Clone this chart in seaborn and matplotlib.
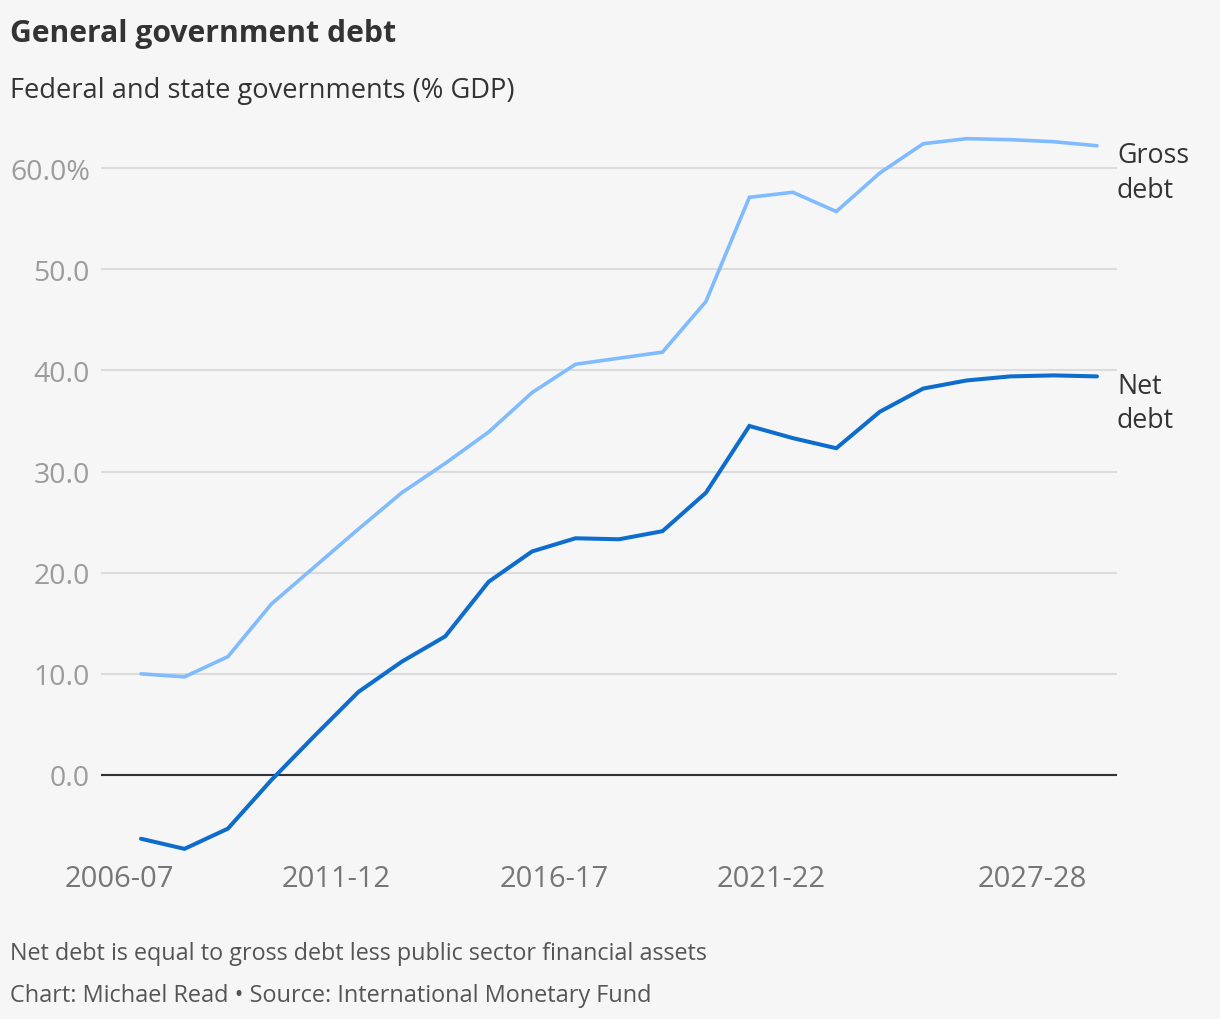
import matplotlib
matplotlib.use("Agg")
import matplotlib.pyplot as plt
import numpy as np
import pandas as pd
import seaborn as sns

# ---------------- data ----------------
years = ["2006-07", "2007-08", "2008-09", "2009-10", "2010-11", "2011-12",
         "2012-13", "2013-14", "2014-15", "2015-16", "2016-17", "2017-18",
         "2018-19", "2019-20", "2020-21", "2021-22", "2022-23", "2023-24",
         "2024-25", "2025-26", "2026-27", "2027-28", "2028-29"]
gross_debt = [10.0, 9.7, 11.7, 16.9, 20.6, 24.3, 27.9, 30.8, 33.9, 37.8, 40.6,
              41.2, 41.8, 46.8, 57.1, 57.6, 55.7, 59.5, 62.4, 62.9, 62.8, 62.6, 62.2]
net_debt = [-6.3, -7.3, -5.3, -0.5, 3.9, 8.2, 11.2, 13.7, 19.1, 22.1, 23.4,
            23.3, 24.1, 27.9, 34.5, 33.3, 32.3, 35.9, 38.2, 39.0, 39.4, 39.5, 39.4]
series_names = ["Gross debt", "Net debt"]
tick_labels = ["2006-07", "2011-12", "2016-17", "2021-22", "2027-28"]
y_ticks = [0, 10, 20, 30, 40, 50, 60]
y_tick_labels = ["0.0", "10.0", "20.0", "30.0", "40.0", "50.0", "60.0%"]

title = "General government debt"
subtitle = "Federal and state governments (% GDP)"
note = "Net debt is equal to gross debt less public sector financial assets"
source = "Chart: Michael Read \u2022 Source: International Monetary Fund"

# ---------------- styling ----------------
BG = "#f6f6f6"
COL_GROSS = "#80bbff"
COL_NET = "#0e6ccd"
TXT = "#333333"

sns.set_theme(style="white", rc={"axes.facecolor": BG, "figure.facecolor": BG})
plt.rcParams["font.family"] = ["Open Sans", "DejaVu Sans"]

n = len(years)
pos = list(range(n))
df = pd.DataFrame({
    "pos": pos + pos,
    "value": gross_debt + net_debt,
    "series": [series_names[0]] * n + [series_names[1]] * n,
})

W, H = 1220, 1020
fig = plt.figure(figsize=(W / 100, H / 100), dpi=100, facecolor=BG)

# axes placement in pixels
left_px, right_px = 101, 1117
y0_px, y60_px = 776, 169
ppu = (y0_px - y60_px) / 60.0
ymin, ymax = -8, 64
top_px = y0_px - ymax * ppu
bot_px = y0_px - ymin * ppu
ax = fig.add_axes([left_px / W, 1 - bot_px / H, (right_px - left_px) / W,
                   (bot_px - top_px) / H])
ax.set_facecolor(BG)

sns.lineplot(data=df, x="pos", y="value", hue="series", hue_order=series_names,
             palette={series_names[0]: COL_GROSS, series_names[1]: COL_NET},
             sort=False, legend=False, ax=ax)
for line, lw in zip(ax.lines, [2.6, 2.9]):
    line.set_linewidth(lw)
    line.set_solid_capstyle("round")
    line.set_solid_joinstyle("miter")
    line.set_zorder(3)

# x scale: first point at 141px, last at 1097px
step = (1097 - 141) / (n - 1)
ax.set_xlim(-(141 - left_px) / step, (n - 1) + (right_px - 1097) / step)
ax.set_ylim(ymin, ymax)

ax.set_xticks([years.index(t) - 0.5 for t in tick_labels])
ax.set_xticklabels(tick_labels)
ax.set_yticks(y_ticks)
ax.set_yticklabels(y_tick_labels)
ax.tick_params(axis="x", length=0, pad=6, labelsize=21, labelcolor="#767676")
ax.tick_params(axis="y", length=0, pad=8, labelsize=20.5, labelcolor="#9c9c9c")
ax.set_xlabel("")
ax.set_ylabel("")

ax.yaxis.grid(True, color="#dcdcdc", linewidth=1.5)
ax.xaxis.grid(False)
ax.set_axisbelow(True)
ax.axhline(0, color="#333333", linewidth=1.5, zorder=2)
for s in ax.spines.values():
    s.set_visible(False)

# end labels
for name, vals in zip(series_names, [gross_debt, net_debt]):
    ax.annotate(name.replace(" ", "\n"), xy=(n - 1, vals[-1]),
                xytext=(14.4, 3.5), textcoords="offset points",
                ha="left", va="top", fontsize=19.3, color=TXT,
                linespacing=1.33, annotation_clip=False)

# titles and footer
fig.text(10 / W, 1 - 42 / H, title, fontsize=21.7, fontweight="bold", color=TXT,
         va="baseline", ha="left")
fig.text(10 / W, 1 - 98 / H, subtitle, fontsize=19.6, color=TXT,
         va="baseline", ha="left")
fig.text(10 / W, 1 - 960 / H, note, fontsize=16.8, color="#555555",
         va="baseline", ha="left")
fig.text(10 / W, 1 - 1002 / H, source, fontsize=16.9, color="#555555",
         va="baseline", ha="left")

fig.savefig("out.png", dpi=100, facecolor=BG)
